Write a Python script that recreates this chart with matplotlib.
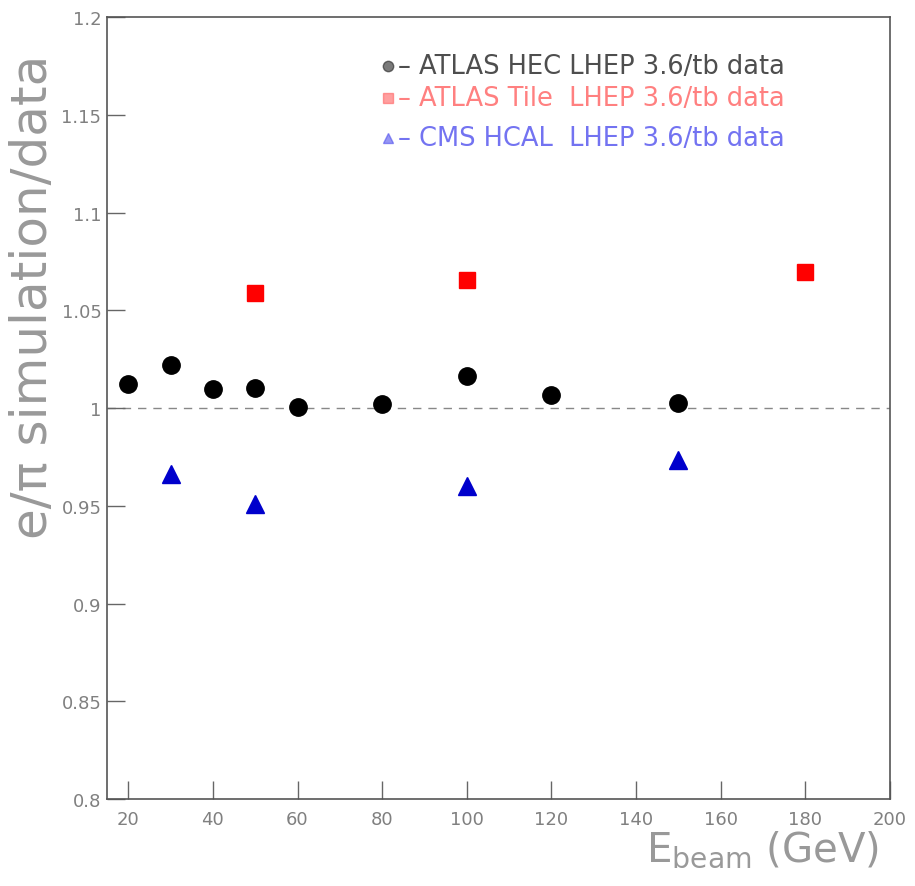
import matplotlib
matplotlib.use("Agg")
import matplotlib.pyplot as plt

# Data
hec_e = [20, 30, 40, 50, 60, 80, 100, 120, 150]
hec_r = [1.0123, 1.022, 1.0097, 1.0101, 1.0003, 1.002, 1.0162, 1.0066, 1.0026]
tile_e = [50, 100, 180]
tile_r = [1.0588, 1.0655, 1.0696]
cms_e = [30, 50, 100, 150]
cms_r = [0.9662, 0.951, 0.9603, 0.9734]

xticks = [20, 40, 60, 80, 100, 120, 140, 160, 180, 200]
yticks = [0.8, 0.85, 0.9, 0.95, 1.0, 1.05, 1.1, 1.15, 1.2]
ytick_labels = ["0.8", "0.85", "0.9", "0.95", "1", "1.05", "1.1", "1.15", "1.2"]
legend_labels = ["– ATLAS HEC LHEP 3.6/tb data",
                 "– ATLAS Tile  LHEP 3.6/tb data",
                 "– CMS HCAL  LHEP 3.6/tb data"]

fig = plt.figure(figsize=(9.15, 8.87), dpi=100)
ax = fig.add_axes([0.117, 0.098, 0.8557, 0.8817])

tick_col = "#808080"
ax.axhline(1.0, color="#888888", lw=1.0, ls=(0, (6, 5)), zorder=1)

ax.plot(hec_e, hec_r, "o", color="black", ms=12.5, zorder=3)
ax.plot(tile_e, tile_r, "s", color="#ff0000", ms=11.5, zorder=3)
ax.plot(cms_e, cms_r, "^", color="#0000cc", ms=12.5, zorder=3)

ax.set_xlim(15, 200)
ax.set_ylim(0.8, 1.2)
ax.set_xticks(xticks)
ax.set_xticklabels([str(t) for t in xticks])
ax.set_yticks(yticks)
ax.set_yticklabels(ytick_labels)
ax.tick_params(axis="both", direction="in", length=13, width=1, color="#666666",
               labelcolor=tick_col, labelsize=13)
ax.tick_params(axis="x", pad=8)
ax.tick_params(axis="y", pad=4)
for s in ax.spines.values():
    s.set_color("#555555")
    s.set_linewidth(1.2)

fig.text(0.036, 0.665, "e/π simulation/data", rotation=90, fontsize=36,
         color="#999999", ha="center", va="center")
fig.text(0.833, 0.042, r"E$_{\mathregular{beam}}$ (GeV)", fontsize=29,
         color="#999999", ha="center", va="center")

# legend
cols = ["#222222", "#ff6060", "#5050ee"]
mk = ["o", "s", "^"]
ys = [0.937, 0.896, 0.845]
for lab, c, m, yy in zip(legend_labels, cols, mk, ys):
    ax.plot([0.359], [yy], marker=m, color=c, ms=7.5, alpha=0.6, transform=ax.transAxes,
            clip_on=False)
    ax.text(0.372, yy, lab, transform=ax.transAxes, fontsize=18.5, color=c,
            alpha=0.8, ha="left", va="center")

fig.savefig("out.png", dpi=100)
